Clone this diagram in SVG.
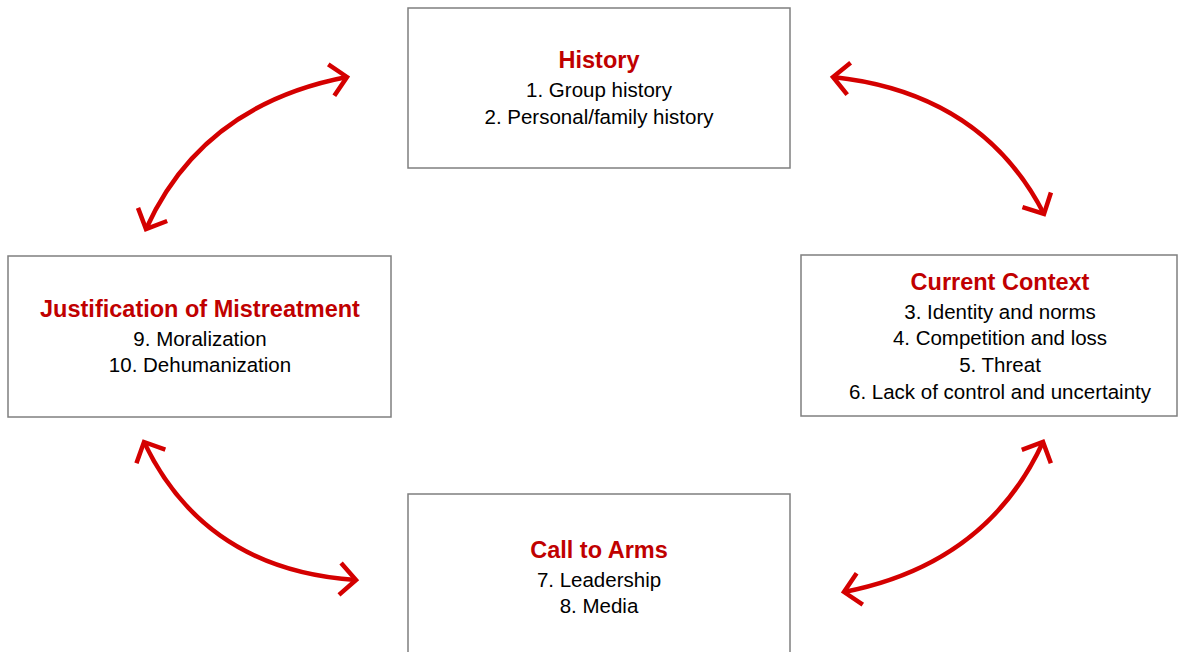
<svg xmlns="http://www.w3.org/2000/svg" width="1178" height="652" viewBox="0 0 1178 652">
<style>
.box{fill:#fff;stroke:#7f7f7f;stroke-width:1.5}
.t{font-family:"Liberation Sans",Arial,sans-serif;text-anchor:middle}
.title{font-size:23.5px;font-weight:bold;fill:#c00000}
.item{font-size:20.5px;fill:#000}
.arr{fill:none;stroke:#d40000;stroke-width:4.5;marker-start:url(#head);marker-end:url(#head)}
</style>
<defs>
<marker id="head" markerUnits="userSpaceOnUse" viewBox="-20 -20 24 40" refX="0" refY="0" markerWidth="24" markerHeight="40" orient="auto-start-reverse">
<path d="M -16 -16 L 0 0 L -16 16" fill="none" stroke="#d40000" stroke-width="4.5"/>
</marker>
</defs>
<rect width="1178" height="652" fill="#fff"/>
<g id="connectors">
<path class="arr" d="M 347 77 Q 202 105 146 229"/>
<path class="arr" d="M 833 77 Q 982 93 1044 214"/>
<path class="arr" d="M 144 442 Q 205 570 356 580"/>
<path class="arr" d="M 1043 442 Q 987 564 844 592"/>
</g>
<g id="history">
<rect class="box" x="408" y="8" width="382" height="160"/>
<text class="t title" x="599" y="68">History</text>
<text class="t item" x="599" y="97">1. Group history</text>
<text class="t item" x="599" y="124">2. Personal/family history</text>
</g>
<g id="current-context">
<rect class="box" x="801" y="255" width="376" height="161"/>
<text class="t title" x="1000" y="290">Current Context</text>
<text class="t item" x="1000" y="319">3. Identity and norms</text>
<text class="t item" x="1000" y="345">4. Competition and loss</text>
<text class="t item" x="1000" y="372">5. Threat</text>
<text class="t item" x="1000" y="399">6. Lack of control and uncertainty</text>
</g>
<g id="justification">
<rect class="box" x="8" y="256" width="383" height="161"/>
<text class="t title" x="200" y="317">Justification of Mistreatment</text>
<text class="t item" x="200" y="346">9. Moralization</text>
<text class="t item" x="200" y="372">10. Dehumanization</text>
</g>
<g id="call-to-arms">
<rect class="box" x="408" y="494" width="382" height="170"/>
<text class="t title" x="599" y="558">Call to Arms</text>
<text class="t item" x="599" y="587">7. Leadership</text>
<text class="t item" x="599" y="613">8. Media</text>
</g>
</svg>
